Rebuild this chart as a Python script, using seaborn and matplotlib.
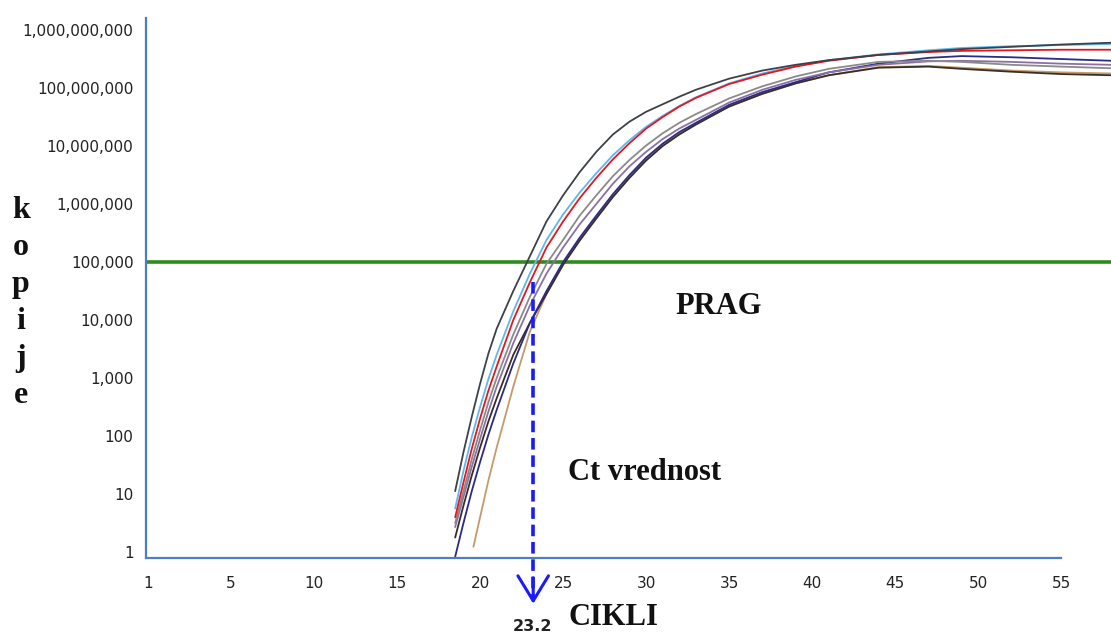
import numpy as np
import pandas as pd
import matplotlib
matplotlib.use("Agg")
import matplotlib.pyplot as plt
import seaborn as sns

# qPCR amplification curves (copies per cycle)
cycles = [18.5, 19, 19.5, 20, 20.5, 21, 22, 23, 24, 25, 26, 27, 28, 29, 30, 31, 32, 33,
          35, 37, 39, 41, 44, 47, 49, 52, 55, 58]
cycles_tan = [19.6, 20, 20.5, 21, 22, 23, 24, 25, 26, 27, 28, 29, 30, 31, 32, 33,
              35, 37, 39, 41, 44, 47, 49, 52, 55, 58]

dark_gray = [1.12e1, 5.25e1, 2.14e2, 7.94e2, 2.63e3, 7.08e3, 3.16e4, 1.26e5, 5.01e5, 1.41e6, 3.55e6, 7.94e6,
             1.58e7, 2.63e7, 3.89e7, 5.25e7, 7.08e7, 9.33e7, 1.45e8, 2.0e8, 2.51e8, 3.02e8, 3.72e8, 4.27e8,
             4.68e8, 5.13e8, 5.62e8, 6.03e8]
light_blue = [5.62, 2.51e1, 9.55e1, 3.16e2, 9.55e2, 2.51e3, 1.41e4, 6.31e4, 2.4e5, 6.61e5, 1.58e6, 3.39e6,
              6.92e6, 1.26e7, 2.14e7, 3.31e7, 4.9e7, 6.92e7, 1.2e8, 1.78e8, 2.4e8, 3.02e8, 3.8e8, 4.47e8,
              4.9e8, 5.25e8, 5.5e8, 5.75e8]
red = [3.98, 1.58e1, 6.03e1, 2.0e2, 6.03e2, 1.58e3, 1.0e4, 4.47e4, 1.78e5, 5.01e5, 1.26e6, 2.82e6,
       5.89e6, 1.12e7, 2.0e7, 3.16e7, 4.79e7, 6.76e7, 1.17e8, 1.7e8, 2.34e8, 2.95e8, 3.72e8, 4.17e8,
       4.37e8, 4.47e8, 4.57e8, 4.57e8]
gray = [3.16, 1.12e1, 3.98e1, 1.26e2, 3.8e2, 1.0e3, 5.62e3, 2.51e4, 9.33e4, 2.4e5, 6.31e5, 1.41e6,
        3.02e6, 5.75e6, 1.02e7, 1.66e7, 2.51e7, 3.55e7, 6.61e7, 1.07e8, 1.58e8, 2.14e8, 2.82e8, 2.95e8,
        2.82e8, 2.51e8, 2.34e8, 2.19e8]
purple = [2.69, 8.91, 2.95e1, 8.91e1, 2.63e2, 7.08e2, 3.98e3, 1.78e4, 6.31e4, 1.78e5, 4.47e5, 1.0e6,
          2.24e6, 4.47e6, 7.94e6, 1.32e7, 2.0e7, 2.82e7, 5.62e7, 9.33e7, 1.38e8, 1.86e8, 2.51e8, 2.88e8,
          2.95e8, 2.82e8, 2.63e8, 2.51e8]
navy = [0.83, 3.16, 1.12e1, 3.55e1, 1.05e2, 2.82e2, 1.78e3, 8.91e3, 3.16e4, 1.0e5, 2.63e5, 6.31e5,
        1.48e6, 3.16e6, 6.31e6, 1.1e7, 1.74e7, 2.51e7, 5.13e7, 8.51e7, 1.26e8, 1.86e8, 2.63e8, 3.31e8,
        3.55e8, 3.39e8, 3.16e8, 2.95e8]
dark_brown = [1.78, 6.31, 2.09e1, 6.31e1, 1.78e2, 4.47e2, 2.51e3, 8.91e3, 2.82e4, 8.91e4, 2.34e5, 5.62e5,
              1.32e6, 2.82e6, 5.62e6, 1.0e7, 1.58e7, 2.34e7, 4.79e7, 7.94e7, 1.2e8, 1.66e8, 2.24e8, 2.34e8,
              2.14e8, 1.91e8, 1.74e8, 1.66e8]
tan = [1.23, 3.98, 1.7e1, 6.31e1, 7.08e2, 6.31e3, 2.82e4, 9.33e4, 2.4e5, 5.75e5, 1.35e6, 2.95e6,
       5.89e6, 1.02e7, 1.62e7, 2.4e7, 4.79e7, 7.94e7, 1.2e8, 1.66e8, 2.29e8, 2.4e8, 2.24e8, 2.0e8,
       1.86e8, 1.78e8]

threshold = 1e5
ct_value = 23.2
ct_label = "23.2"
x_ticks = [0, 5, 10, 15, 20, 25, 30, 35, 40, 45, 50, 55]
x_labels = ["1", "5", "10", "15", "20", "25", "30", "35", "40", "45", "50", "55"]
y_ticks = [1, 10, 100, 1e3, 1e4, 1e5, 1e6, 1e7, 1e8, 1e9]

palette = {
    "tan": "#c49a6c",
    "dark_brown": "#3a2e24",
    "navy": "#2a2c86",
    "purple": "#8c70a4",
    "gray": "#8a8a8a",
    "light_blue": "#5bb8f0",
    "red": "#e8141e",
    "dark_gray": "#3d4248",
}

series = {"tan": tan, "dark_brown": dark_brown, "navy": navy, "purple": purple,
          "gray": gray, "light_blue": light_blue, "red": red, "dark_gray": dark_gray}
frames = []
for name, vals in series.items():
    xs = cycles_tan if name == "tan" else cycles
    frames.append(pd.DataFrame({"cycle": xs, "copies": vals, "sample": name}))
df = pd.concat(frames, ignore_index=True)

sns.set_style("white")
plt.rcParams["font.family"] = ["DejaVu Sans"]

fig = plt.figure(figsize=(11.11, 6.34), dpi=100)
ax = fig.add_axes([146 / 1111, 76 / 634, 965 / 1111, 540 / 634])
ax.set_yscale("log")

ax.axhline(threshold, color="#2d8c1e", lw=2.6, zorder=1)

sns.lineplot(data=df, x="cycle", y="copies", hue="sample", hue_order=list(series.keys()),
             palette=palette, estimator=None, sort=False, legend=False, lw=1.3, ax=ax, zorder=2)

ax.set_xlim(-0.12, 58.0)
ax.set_ylim(10 ** -0.103, 10 ** 9.207)
ax.set_xlabel("")
ax.set_ylabel("")

ax.set_xticks(x_ticks, labels=x_labels)
ax.set_yticks(y_ticks, labels=[f"{int(v):,}" for v in y_ticks])
ax.minorticks_off()
ax.tick_params(axis="both", length=0, labelsize=11, labelcolor="#222222")
ax.tick_params(axis="x", pad=13)
ax.tick_params(axis="y", pad=9)

for side in ["top", "right"]:
    ax.spines[side].set_visible(False)
for side in ["left", "bottom"]:
    ax.spines[side].set_color("#4a7fc1")
    ax.spines[side].set_linewidth(1.6)
ax.spines["bottom"].set_bounds(-0.12, 55.0)

# Ct marker: dashed drop line with an open arrow head below the axis
ax.plot([ct_value, ct_value], [4.6e4, 0.17], color="#1a1aff", lw=2.6, ls="--",
        dashes=(3.2, 1.6), clip_on=False, zorder=3)
ax.annotate("", xy=(ct_value, 0.115), xytext=(ct_value, 0.4), annotation_clip=False,
            arrowprops=dict(arrowstyle="->,head_length=0.9,head_width=0.55", mutation_scale=20,
                            color="#1a1aff", lw=2.2))

serif = dict(family="Liberation Serif", fontweight="bold", color="#111111")
fig.text(0.647, 0.516, "PRAG", fontsize=22, ha="center", va="center", **serif)
fig.text(0.5806, 0.2555, "Ct vrednost", fontsize=22, ha="center", va="center", **serif)
fig.text(0.5518, 0.0268, "CIKLI", fontsize=22, ha="center", va="center", **serif)
fig.text(0.0189, 0.522, "k\no\np\ni\nj\ne", fontsize=23, ha="center", va="center",
         linespacing=1.36, **serif)
fig.text(0.4797, 0.012, ct_label, fontsize=11.5, fontweight="bold", color="#222222",
         ha="center", va="center")

fig.savefig("out.png", dpi=100)
